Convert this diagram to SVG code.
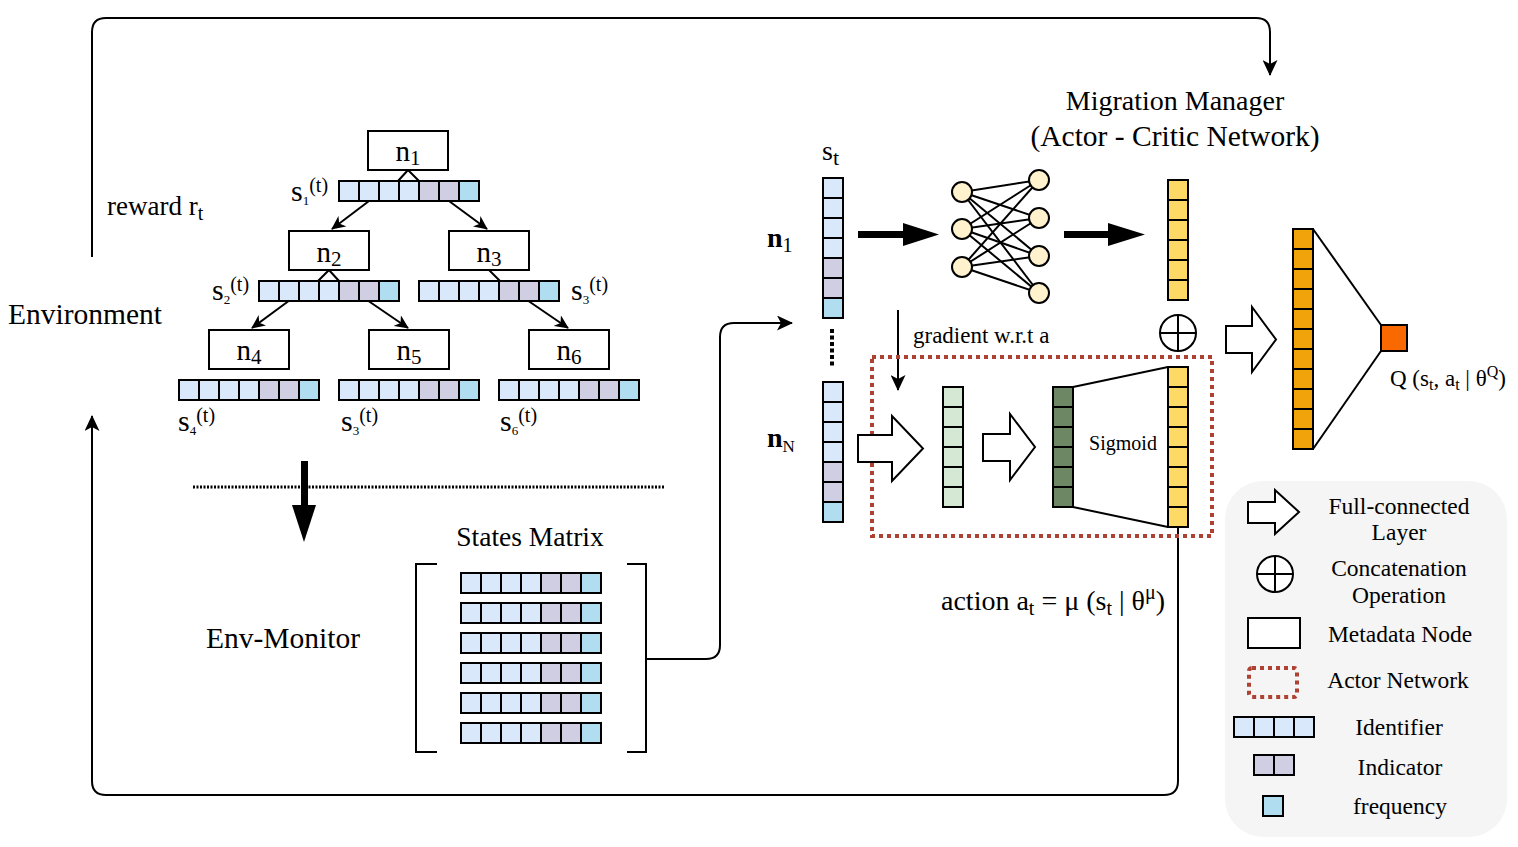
<svg xmlns="http://www.w3.org/2000/svg" xmlns:xlink="http://www.w3.org/1999/xlink" width="1518" height="847" viewBox="0 0 1518 847">
<style>
.t{font-family:"Liberation Serif","Times New Roman",serif;fill:#000}
.ln{fill:none;stroke:#000;stroke-width:2}
.box{fill:#fff;stroke:#000;stroke-width:2}
.ib{fill:#dae8fc;stroke:#000;stroke-width:2}
.pu{fill:#d0cee2;stroke:#000;stroke-width:2}
.cy{fill:#b1ddf0;stroke:#000;stroke-width:2}
.ye{fill:#ffd966;stroke:#000;stroke-width:2}
.lg{fill:#d5e8d4;stroke:#000;stroke-width:2}
.dg{fill:#6d8764;stroke:#000;stroke-width:2}
.or{fill:#f0a30a;stroke:#000;stroke-width:2}
.neu{fill:#fff2cc;stroke:#000;stroke-width:2}
.fc{fill:#fff;stroke:#000;stroke-width:2}
.red{fill:none;stroke:#ae4132;stroke-width:4;stroke-dasharray:4 4}
</style>
<defs>
<marker id="ah" viewBox="0 0 16 15" markerWidth="16" markerHeight="15" refX="15" refY="7.5" orient="auto" markerUnits="userSpaceOnUse">
<path d="M0,0 L16,7.5 L0,15 L4,7.5 z" fill="#000"/>
</marker>
<marker id="ahs" viewBox="0 0 14 13" markerWidth="14" markerHeight="13" refX="13" refY="6.5" orient="auto" markerUnits="userSpaceOnUse">
<path d="M0,0 L14,6.5 L0,13 L4,6.5 z" fill="#000"/>
</marker>
<g id="hbar">
<rect class="ib" x="0" y="0" width="20" height="20"/>
<rect class="ib" x="20" y="0" width="20" height="20"/>
<rect class="ib" x="40" y="0" width="20" height="20"/>
<rect class="ib" x="60" y="0" width="20" height="20"/>
<rect class="pu" x="80" y="0" width="20" height="20"/>
<rect class="pu" x="100" y="0" width="20" height="20"/>
<rect class="cy" x="120" y="0" width="20" height="20"/>
</g>
<g id="vbar">
<rect class="ib" x="0" y="0" width="20" height="20"/>
<rect class="ib" x="0" y="20" width="20" height="20"/>
<rect class="ib" x="0" y="40" width="20" height="20"/>
<rect class="ib" x="0" y="60" width="20" height="20"/>
<rect class="pu" x="0" y="80" width="20" height="20"/>
<rect class="pu" x="0" y="100" width="20" height="20"/>
<rect class="cy" x="0" y="120" width="20" height="20"/>
</g>
</defs>

<!-- connectors -->
<g id="connectors">
<path class="ln" d="M92,257 L92,32 Q92,18 106,18 L1256,18 Q1270,18 1270,32 L1270,75" marker-end="url(#ah)"/>
<path class="ln" d="M1178,527 L1178,781 Q1178,795 1164,795 L106,795 Q92,795 92,781 L92,416" marker-end="url(#ah)"/>
<path class="ln" d="M647,659 L706,659 Q720,659 720,645 L720,337 Q720,323 734,323 L792,323" marker-end="url(#ah)"/>
<path class="ln" d="M898,310 L898,390" marker-end="url(#ah)"/>
<path class="ln" d="M398,181 L408,170 L419,181"/>
<path class="ln" d="M318,281 L329,270 L339,281"/>
<path class="ln" d="M489,270 L500,281"/>
<path class="ln" d="M369,201 L332,229" marker-end="url(#ahs)"/>
<path class="ln" d="M449,201 L487,229" marker-end="url(#ahs)"/>
<path class="ln" d="M290,300 L252,328" marker-end="url(#ahs)"/>
<path class="ln" d="M367,300 L408,328" marker-end="url(#ahs)"/>
<path class="ln" d="M527,300 L568,328" marker-end="url(#ahs)"/>
<!-- thick arrows -->
<rect x="858" y="231" width="46" height="7" fill="#000"/>
<path d="M903,223 L939,234.5 L903,246 z" fill="#000"/>
<rect x="1064" y="231" width="45" height="7" fill="#000"/>
<path d="M1108,223 L1145,234.5 L1108,246 z" fill="#000"/>
<rect x="301" y="461" width="7" height="45" fill="#000"/>
<path d="M292,505 L316,505 L304,542 z" fill="#000"/>
<!-- separator -->
<line x1="193" y1="487" x2="664" y2="487" stroke="#000" stroke-width="3" stroke-dasharray="2 1.5"/>
<line x1="832" y1="329" x2="832" y2="366" stroke="#000" stroke-width="4" stroke-dasharray="4 2.5"/>
</g>

<!-- labels -->
<g id="labels">
<text class="t" x="8" y="324" font-size="29.5">Environment</text>
<text class="t" x="107" y="215" font-size="27">reward r<tspan font-size="20" dy="5">t</tspan></text>
<text class="t" x="206" y="648" font-size="29.5">Env-Monitor</text>
<text class="t" x="1175" y="110" font-size="28" text-anchor="middle">Migration Manager</text>
<text class="t" x="1175" y="146" font-size="29.5" text-anchor="middle">(Actor - Critic Network)</text>
<text class="t" x="913" y="343" font-size="23">gradient w.r.t a</text>
<text class="t" x="941" y="610" font-size="28">action a<tspan font-size="20" dy="5">t</tspan><tspan dy="-5"> = μ (s</tspan><tspan font-size="20" dy="5">t</tspan><tspan dy="-5"> | θ</tspan><tspan font-size="20" dy="-11">μ</tspan><tspan dy="11">)</tspan></text>
<text class="t" x="1390" y="386" font-size="23">Q (s<tspan font-size="16" dy="4">t</tspan><tspan dy="-4">, a</tspan><tspan font-size="16" dy="4">t</tspan><tspan dy="-4"> | θ</tspan><tspan font-size="16" dy="-9">Q</tspan><tspan dy="9">)</tspan></text>
<text class="t" x="822" y="160" font-size="28">s<tspan font-size="22" dy="5">t</tspan></text>
<text class="t" x="767" y="247" font-size="28" font-weight="bold">n<tspan font-size="20" font-weight="normal" dy="5">1</tspan></text>
<text class="t" x="767" y="447" font-size="28" font-weight="bold">n<tspan font-size="17" font-weight="normal" dy="5">N</tspan></text>
<text class="t" x="291" y="201" font-size="30">s<tspan font-size="13" dy="4">1</tspan><tspan font-size="20" dy="-13">(t)</tspan></text>
<text class="t" x="212" y="300" font-size="30">s<tspan font-size="13" dy="4">2</tspan><tspan font-size="20" dy="-13">(t)</tspan></text>
<text class="t" x="571" y="300" font-size="30">s<tspan font-size="13" dy="4">3</tspan><tspan font-size="20" dy="-13">(t)</tspan></text>
<text class="t" x="178" y="431" font-size="30">s<tspan font-size="13" dy="4">4</tspan><tspan font-size="20" dy="-13">(t)</tspan></text>
<text class="t" x="341" y="431" font-size="30">s<tspan font-size="13" dy="4">3</tspan><tspan font-size="20" dy="-13">(t)</tspan></text>
<text class="t" x="500" y="431" font-size="30">s<tspan font-size="13" dy="4">6</tspan><tspan font-size="20" dy="-13">(t)</tspan></text>
</g>

<!-- tree nodes -->
<g id="node-n1"><rect class="box" x="368" y="131" width="80" height="39"/><text class="t" x="408" y="161" font-size="29" text-anchor="middle">n<tspan font-size="21" dy="4">1</tspan></text></g>
<g id="node-n2"><rect class="box" x="289" y="231" width="80" height="39"/><text class="t" x="329" y="262" font-size="29" text-anchor="middle">n<tspan font-size="21" dy="4">2</tspan></text></g>
<g id="node-n3"><rect class="box" x="449" y="231" width="80" height="39"/><text class="t" x="489" y="262" font-size="29" text-anchor="middle">n<tspan font-size="21" dy="4">3</tspan></text></g>
<g id="node-n4"><rect class="box" x="209" y="330" width="80" height="39"/><text class="t" x="249" y="360" font-size="29" text-anchor="middle">n<tspan font-size="21" dy="4">4</tspan></text></g>
<g id="node-n5"><rect class="box" x="369" y="330" width="80" height="39"/><text class="t" x="409" y="360" font-size="29" text-anchor="middle">n<tspan font-size="21" dy="4">5</tspan></text></g>
<g id="node-n6"><rect class="box" x="529" y="330" width="80" height="39"/><text class="t" x="569" y="360" font-size="29" text-anchor="middle">n<tspan font-size="21" dy="4">6</tspan></text></g>

<g id="state-bars">
<use xlink:href="#hbar" href="#hbar" x="339" y="181"/>
<use xlink:href="#hbar" href="#hbar" x="259" y="281"/>
<use xlink:href="#hbar" href="#hbar" x="419" y="281"/>
<use xlink:href="#hbar" href="#hbar" x="179" y="380"/>
<use xlink:href="#hbar" href="#hbar" x="339" y="380"/>
<use xlink:href="#hbar" href="#hbar" x="499" y="380"/>
</g>

<!-- states matrix -->
<g id="states-matrix">
<text class="t" x="530" y="546" font-size="27.5" text-anchor="middle">States Matrix</text>
<path class="ln" d="M437,564 L416,564 L416,752 L437,752"/>
<path class="ln" d="M627,564 L646,564 L646,752 L627,752"/>
<use xlink:href="#hbar" href="#hbar" x="461" y="573"/>
<use xlink:href="#hbar" href="#hbar" x="461" y="603"/>
<use xlink:href="#hbar" href="#hbar" x="461" y="633"/>
<use xlink:href="#hbar" href="#hbar" x="461" y="663"/>
<use xlink:href="#hbar" href="#hbar" x="461" y="693"/>
<use xlink:href="#hbar" href="#hbar" x="461" y="723"/>
</g>

<!-- input state columns -->
<g id="state-n1"><use xlink:href="#vbar" href="#vbar" x="823" y="178"/></g>
<g id="state-nN"><use xlink:href="#vbar" href="#vbar" x="823" y="382"/></g>

<!-- neural net -->
<g id="neural-net">
<g class="ln">
<line x1="962" y1="192" x2="1039" y2="180"/><line x1="962" y1="192" x2="1039" y2="218"/><line x1="962" y1="192" x2="1039" y2="256"/><line x1="962" y1="192" x2="1039" y2="293"/>
<line x1="962" y1="229" x2="1039" y2="180"/><line x1="962" y1="229" x2="1039" y2="218"/><line x1="962" y1="229" x2="1039" y2="256"/><line x1="962" y1="229" x2="1039" y2="293"/>
<line x1="962" y1="267" x2="1039" y2="180"/><line x1="962" y1="267" x2="1039" y2="218"/><line x1="962" y1="267" x2="1039" y2="256"/><line x1="962" y1="267" x2="1039" y2="293"/>
</g>
<circle class="neu" cx="962" cy="192" r="10"/>
<circle class="neu" cx="962" cy="229" r="10"/>
<circle class="neu" cx="962" cy="267" r="10"/>
<circle class="neu" cx="1039" cy="180" r="10"/>
<circle class="neu" cx="1039" cy="218" r="10"/>
<circle class="neu" cx="1039" cy="256" r="10"/>
<circle class="neu" cx="1039" cy="293" r="10"/>
</g>

<g id="critic-state-feature">
<rect class="ye" x="1168" y="180" width="20" height="20"/><rect class="ye" x="1168" y="200" width="20" height="20"/><rect class="ye" x="1168" y="220" width="20" height="20"/><rect class="ye" x="1168" y="240" width="20" height="20"/><rect class="ye" x="1168" y="260" width="20" height="20"/><rect class="ye" x="1168" y="280" width="20" height="20"/>
</g>

<g id="concat">
<circle class="box" cx="1178" cy="333" r="18"/>
<line class="ln" x1="1160" y1="333" x2="1196" y2="333"/>
<line class="ln" x1="1178" y1="315" x2="1178" y2="351"/>
</g>

<!-- actor network -->
<g id="actor-network">
<rect class="red" x="872" y="357" width="340" height="179"/>
<path class="fc" d="M858,435 L892,435 L892,416 L923,448.5 L892,481 L892,462 L858,462 z"/>
<rect class="lg" x="943" y="387" width="20" height="20"/><rect class="lg" x="943" y="407" width="20" height="20"/><rect class="lg" x="943" y="427" width="20" height="20"/><rect class="lg" x="943" y="447" width="20" height="20"/><rect class="lg" x="943" y="467" width="20" height="20"/><rect class="lg" x="943" y="487" width="20" height="20"/>
<path class="fc" d="M983,434 L1010,434 L1010,414 L1035,447 L1010,480 L1010,461 L983,461 z"/>
<rect class="dg" x="1053" y="387" width="20" height="20"/><rect class="dg" x="1053" y="407" width="20" height="20"/><rect class="dg" x="1053" y="427" width="20" height="20"/><rect class="dg" x="1053" y="447" width="20" height="20"/><rect class="dg" x="1053" y="467" width="20" height="20"/><rect class="dg" x="1053" y="487" width="20" height="20"/>
<line class="ln" x1="1073" y1="387" x2="1168" y2="367"/>
<line class="ln" x1="1073" y1="507" x2="1168" y2="527"/>
<text class="t" x="1123" y="450" font-size="20" text-anchor="middle">Sigmoid</text>
<rect class="ye" x="1168" y="367" width="20" height="20"/><rect class="ye" x="1168" y="387" width="20" height="20"/><rect class="ye" x="1168" y="407" width="20" height="20"/><rect class="ye" x="1168" y="427" width="20" height="20"/><rect class="ye" x="1168" y="447" width="20" height="20"/><rect class="ye" x="1168" y="467" width="20" height="20"/><rect class="ye" x="1168" y="487" width="20" height="20"/><rect class="ye" x="1168" y="507" width="20" height="20"/>
</g>

<!-- critic output -->
<g id="critic-output">
<path class="fc" d="M1226,326 L1252,326 L1252,307 L1276,339.5 L1252,372 L1252,353 L1226,353 z"/>
<rect class="or" x="1293" y="229" width="20" height="20"/><rect class="or" x="1293" y="249" width="20" height="20"/><rect class="or" x="1293" y="269" width="20" height="20"/><rect class="or" x="1293" y="289" width="20" height="20"/><rect class="or" x="1293" y="309" width="20" height="20"/><rect class="or" x="1293" y="329" width="20" height="20"/><rect class="or" x="1293" y="349" width="20" height="20"/><rect class="or" x="1293" y="369" width="20" height="20"/><rect class="or" x="1293" y="389" width="20" height="20"/><rect class="or" x="1293" y="409" width="20" height="20"/><rect class="or" x="1293" y="429" width="20" height="20"/>
<line class="ln" x1="1313" y1="229" x2="1381" y2="325"/>
<line class="ln" x1="1313" y1="449" x2="1381" y2="351"/>
<rect x="1381" y="325" width="26" height="26" fill="#fa6800" stroke="#000" stroke-width="2"/>
</g>

<!-- legend -->
<g id="legend">
<rect x="1225" y="481" width="282" height="356" rx="38" fill="#f5f5f5"/>
<path class="fc" d="M1248,502 L1275,502 L1275,490 L1299,512 L1275,534 L1275,523 L1248,523 z"/>
<text class="t" x="1399" y="514" font-size="23.5" text-anchor="middle">Full-connected</text>
<text class="t" x="1399" y="540" font-size="23.5" text-anchor="middle">Layer</text>
<circle class="box" cx="1275" cy="574" r="18"/>
<line class="ln" x1="1257" y1="574" x2="1293" y2="574"/>
<line class="ln" x1="1275" y1="556" x2="1275" y2="592"/>
<text class="t" x="1399" y="576" font-size="23.5" text-anchor="middle">Concatenation</text>
<text class="t" x="1399" y="603" font-size="23.5" text-anchor="middle">Operation</text>
<rect class="box" x="1248" y="618" width="52" height="30"/>
<text class="t" x="1400" y="642" font-size="23.5" text-anchor="middle">Metadata Node</text>
<rect class="red" x="1249" y="668" width="48" height="29" rx="3"/>
<text class="t" x="1398" y="688" font-size="23.5" text-anchor="middle">Actor Network</text>
<rect class="ib" x="1234" y="717" width="20" height="20"/><rect class="ib" x="1254" y="717" width="20" height="20"/><rect class="ib" x="1274" y="717" width="20" height="20"/><rect class="ib" x="1294" y="717" width="20" height="20"/>
<text class="t" x="1399" y="735" font-size="23.5" text-anchor="middle">Identifier</text>
<rect class="pu" x="1254" y="755" width="20" height="20"/><rect class="pu" x="1274" y="755" width="20" height="20"/>
<text class="t" x="1400" y="775" font-size="23.5" text-anchor="middle">Indicator</text>
<rect class="cy" x="1263" y="796" width="20" height="20"/>
<text class="t" x="1400" y="814" font-size="23.5" text-anchor="middle">frequency</text>
</g>
</svg>
